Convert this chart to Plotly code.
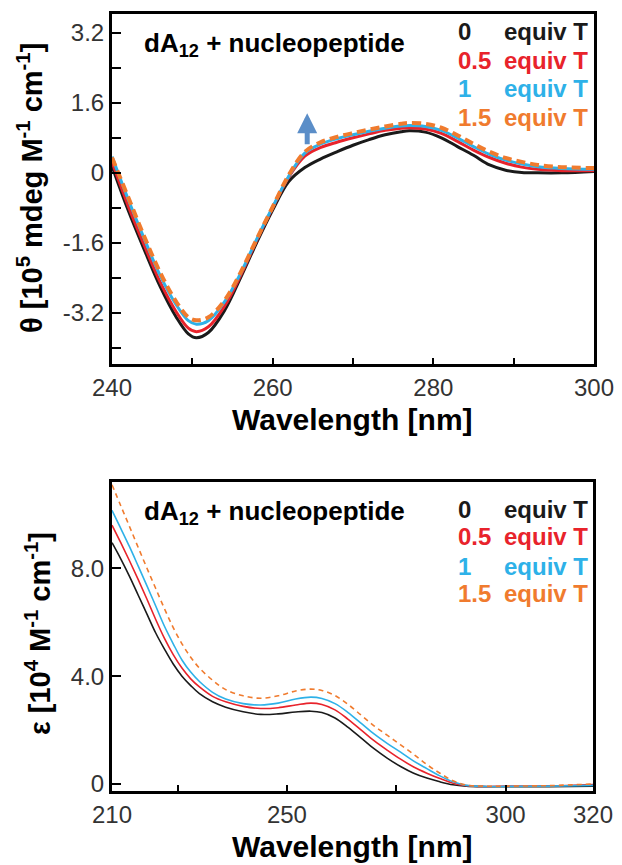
import plotly.graph_objects as go

# ---------------- CD spectra (top) ----------------
cd_wl = [240, 242, 244, 246, 248, 249.5, 250.5, 252, 254, 256, 258, 260, 262, 264, 266, 268,
         270, 272, 274, 276, 277, 279, 281, 283, 285, 287, 289, 291, 293, 296, 300]
cd_0 = [0.15, -0.85, -1.75, -2.6, -3.3, -3.68, -3.77, -3.65, -3.15, -2.4, -1.6, -0.85, -0.2, 0.12,
        0.32, 0.48, 0.63, 0.76, 0.87, 0.94, 0.96, 0.93, 0.8, 0.6, 0.4, 0.18, 0.06, 0.01, 0.0, 0.0, 0.03]
cd_05 = [0.25, -0.75, -1.65, -2.5, -3.18, -3.55, -3.63, -3.52, -3.05, -2.35, -1.55, -0.8, -0.1, 0.38,
         0.58, 0.7, 0.8, 0.89, 0.97, 1.02, 1.03, 1.0, 0.9, 0.72, 0.52, 0.35, 0.22, 0.13, 0.08, 0.05, 0.05]
cd_1 = [0.37, -0.6, -1.5, -2.35, -3.02, -3.38, -3.46, -3.38, -2.95, -2.3, -1.52, -0.78, -0.08, 0.45,
        0.66, 0.78, 0.87, 0.95, 1.02, 1.07, 1.08, 1.06, 0.97, 0.8, 0.6, 0.42, 0.29, 0.2, 0.14, 0.1, 0.08]
cd_15 = [0.35, -0.55, -1.45, -2.28, -2.95, -3.3, -3.37, -3.3, -2.92, -2.28, -1.52, -0.78, -0.05, 0.48,
         0.7, 0.82, 0.91, 0.99, 1.06, 1.12, 1.14, 1.12, 1.03, 0.86, 0.66, 0.48, 0.34, 0.25, 0.18, 0.13, 0.11]

# ---------------- UV spectra (bottom) ----------------
uv_wl = [210, 212, 214, 216, 218, 220, 222, 224, 226, 228, 230, 233, 236, 240, 244, 248, 252, 255.5,
         258, 261, 264, 267, 270, 273, 276, 279, 282, 285, 288, 291, 295, 300, 310, 320]
uv_0 = [8.95, 8.35, 7.7, 7.0, 6.3, 5.6, 5.0, 4.45, 4.0, 3.65, 3.35, 3.05, 2.85, 2.68, 2.58, 2.6, 2.67, 2.7,
        2.65, 2.45, 2.1, 1.7, 1.3, 0.95, 0.65, 0.4, 0.22, 0.08, -0.03, -0.08, -0.1, -0.1, -0.1, -0.08]
uv_05 = [9.6, 8.95, 8.28, 7.58, 6.85, 6.1, 5.4, 4.8, 4.3, 3.9, 3.6, 3.25, 3.05, 2.88, 2.8, 2.83, 2.93, 3.0,
         2.95, 2.75, 2.4, 2.0, 1.6, 1.25, 0.92, 0.63, 0.4, 0.2, 0.03, -0.06, -0.09, -0.08, -0.07, -0.02]
uv_1 = [10.15, 9.48, 8.8, 8.08, 7.35, 6.6, 5.85, 5.2, 4.6, 4.15, 3.8, 3.4, 3.15, 2.98, 2.93, 3.0, 3.15, 3.22,
        3.17, 2.98, 2.65, 2.25, 1.85, 1.5, 1.18, 0.85, 0.57, 0.3, 0.08, -0.05, -0.09, -0.09, -0.08, -0.05]
uv_15 = [11.1, 10.32, 9.55, 8.77, 8.0, 7.25, 6.5, 5.8, 5.2, 4.7, 4.3, 3.85, 3.5, 3.27, 3.18, 3.27, 3.45, 3.52,
         3.47, 3.28, 2.95, 2.55, 2.15, 1.8, 1.45, 1.1, 0.72, 0.4, 0.12, -0.04, -0.08, -0.08, -0.06, 0.0]

series_nums = ["0", "0.5", "1", "1.5"]
series_colors = ["#1a1a1a", "#e8232b", "#2eb1e8", "#f07b2e"]

cd_x_ticks = [240, 250, 260, 270, 280, 290, 300]
cd_x_text = ["240", "", "260", "", "280", "", "300"]
cd_y_ticks = [-4.0, -3.2, -2.4, -1.6, -0.8, 0, 0.8, 1.6, 2.4, 3.2]
cd_y_text = ["", "-3.2", "", "-1.6", "", "0", "", "1.6", "", "3.2"]
uv_x_ticks = [210, 225, 250, 275, 300, 320]
uv_x_text = ["210", "", "250", "", "300", "320"]
uv_y_ticks = [0, 4.0, 8.0]
uv_y_text = ["0", "4.0", "8.0"]

OFF = 8  # default page body margin
W, H = 622 - OFF, 865 - OFF
def px(x):
    return (x - OFF) / W
def py(y):
    return 1 - (y - OFF) / H

fig = go.Figure()

cd_sets = [cd_0, cd_05, cd_1, cd_15]
for i, ys in enumerate(cd_sets):
    dash = "solid" if i < 3 else "9px,5px"
    fig.add_trace(go.Scatter(x=cd_wl, y=ys, mode="lines", xaxis="x", yaxis="y",
                             line=dict(color=series_colors[i], width=3 if i < 3 else 4,
                                       shape="spline", dash=dash),
                             showlegend=False, hoverinfo="skip"))

uv_sets = [uv_0, uv_05, uv_1, uv_15]
for i, ys in enumerate(uv_sets):
    dash = "solid" if i < 3 else "5px,4px"
    fig.add_trace(go.Scatter(x=uv_wl, y=ys, mode="lines", xaxis="x2", yaxis="y2",
                             line=dict(color=series_colors[i], width=1.6, shape="spline", dash=dash),
                             showlegend=False, hoverinfo="skip"))

tickfont = dict(family="Liberation Sans, Arial, sans-serif", size=24, color="#333333")
axis_common = dict(showline=True, linecolor="black", linewidth=3, mirror=True,
                   ticks="inside", tickcolor="black", tickwidth=1.5, automargin=False,
                   showgrid=False, zeroline=False, tickfont=tickfont)

fig.update_layout(
    width=W, height=H, margin=dict(l=0, r=0, t=0, b=0, autoexpand=False),
    paper_bgcolor="white", plot_bgcolor="white",
    xaxis=dict(domain=[px(112), px(594)], range=[240, 300], anchor="y",
               tickmode="array", tickvals=cd_x_ticks, ticktext=cd_x_text, ticklen=6, **axis_common),
    yaxis=dict(domain=[py(364), py(14)], range=[-4.37, 3.63], anchor="x",
               tickmode="array", tickvals=cd_y_ticks, ticktext=cd_y_text, ticklen=9, **axis_common),
    xaxis2=dict(domain=[px(112), px(593)], range=[210, 320], anchor="y2",
                tickmode="array", tickvals=uv_x_ticks, ticktext=uv_x_text, ticklen=6, **axis_common),
    yaxis2=dict(domain=[py(791), py(482)], range=[-0.26, 11.2], anchor="x2",
                tickmode="array", tickvals=uv_y_ticks, ticktext=uv_y_text, ticklen=9, **axis_common),
)

bold = dict(family="Liberation Sans, Arial, sans-serif", color="black")
ann = []
# axis titles
ann.append(dict(text="<b>Wavelength [nm]</b>", x=px(352), y=py(420), xref="paper", yref="paper",
                showarrow=False, font=dict(size=30, **bold), xanchor="center", yanchor="middle"))
ann.append(dict(text="<b>Wavelength [nm]</b>", x=px(352), y=py(846), xref="paper", yref="paper",
                showarrow=False, font=dict(size=30, **bold), xanchor="center", yanchor="middle"))
ann.append(dict(text="<b>θ [10<sup>5</sup> mdeg M<sup>-1</sup> cm<sup>-1</sup>]</b>", x=px(30), y=py(188),
                xref="paper", yref="paper", showarrow=False, textangle=-90,
                font=dict(size=29, **bold), xanchor="center", yanchor="middle"))
ann.append(dict(text="<b>ε [10<sup>4</sup> M<sup>-1</sup> cm<sup>-1</sup>]</b>", x=px(38), y=py(634),
                xref="paper", yref="paper", showarrow=False, textangle=-90,
                font=dict(size=29, **bold), xanchor="center", yanchor="middle"))
# sample labels
for yy in (44, 513):
    ann.append(dict(text="<b>dA<sub>12</sub> + nucleopeptide</b>", x=px(142), y=py(yy),
                    xref="paper", yref="paper", showarrow=False, xanchor="left", yanchor="middle",
                    font=dict(size=26, **bold)))
# legend texts
top_rows = [32, 60, 89, 117]
bot_rows = [509, 536, 566, 593]
for rows in (top_rows, bot_rows):
    for i, yy in enumerate(rows):
        f = dict(family="Liberation Sans, Arial, sans-serif", size=24, color=series_colors[i])
        ann.append(dict(text="<b>" + series_nums[i] + "</b>", x=px(456), y=py(yy), xref="paper", yref="paper",
                        showarrow=False, xanchor="left", yanchor="middle", font=f))
        ann.append(dict(text="<b>equiv T</b>", x=px(502), y=py(yy), xref="paper", yref="paper",
                        showarrow=False, xanchor="left", yanchor="middle", font=f))
# arrow
ann.append(dict(x=264.3, y=1.36, ax=264.3, ay=0.62, xref="x", yref="y", axref="x", ayref="y",
                text="", showarrow=True, arrowhead=2, arrowsize=0.8, arrowwidth=5,
                arrowcolor="#5b8ec8"))
fig.update_layout(annotations=ann)

fig.write_html("out.html")
